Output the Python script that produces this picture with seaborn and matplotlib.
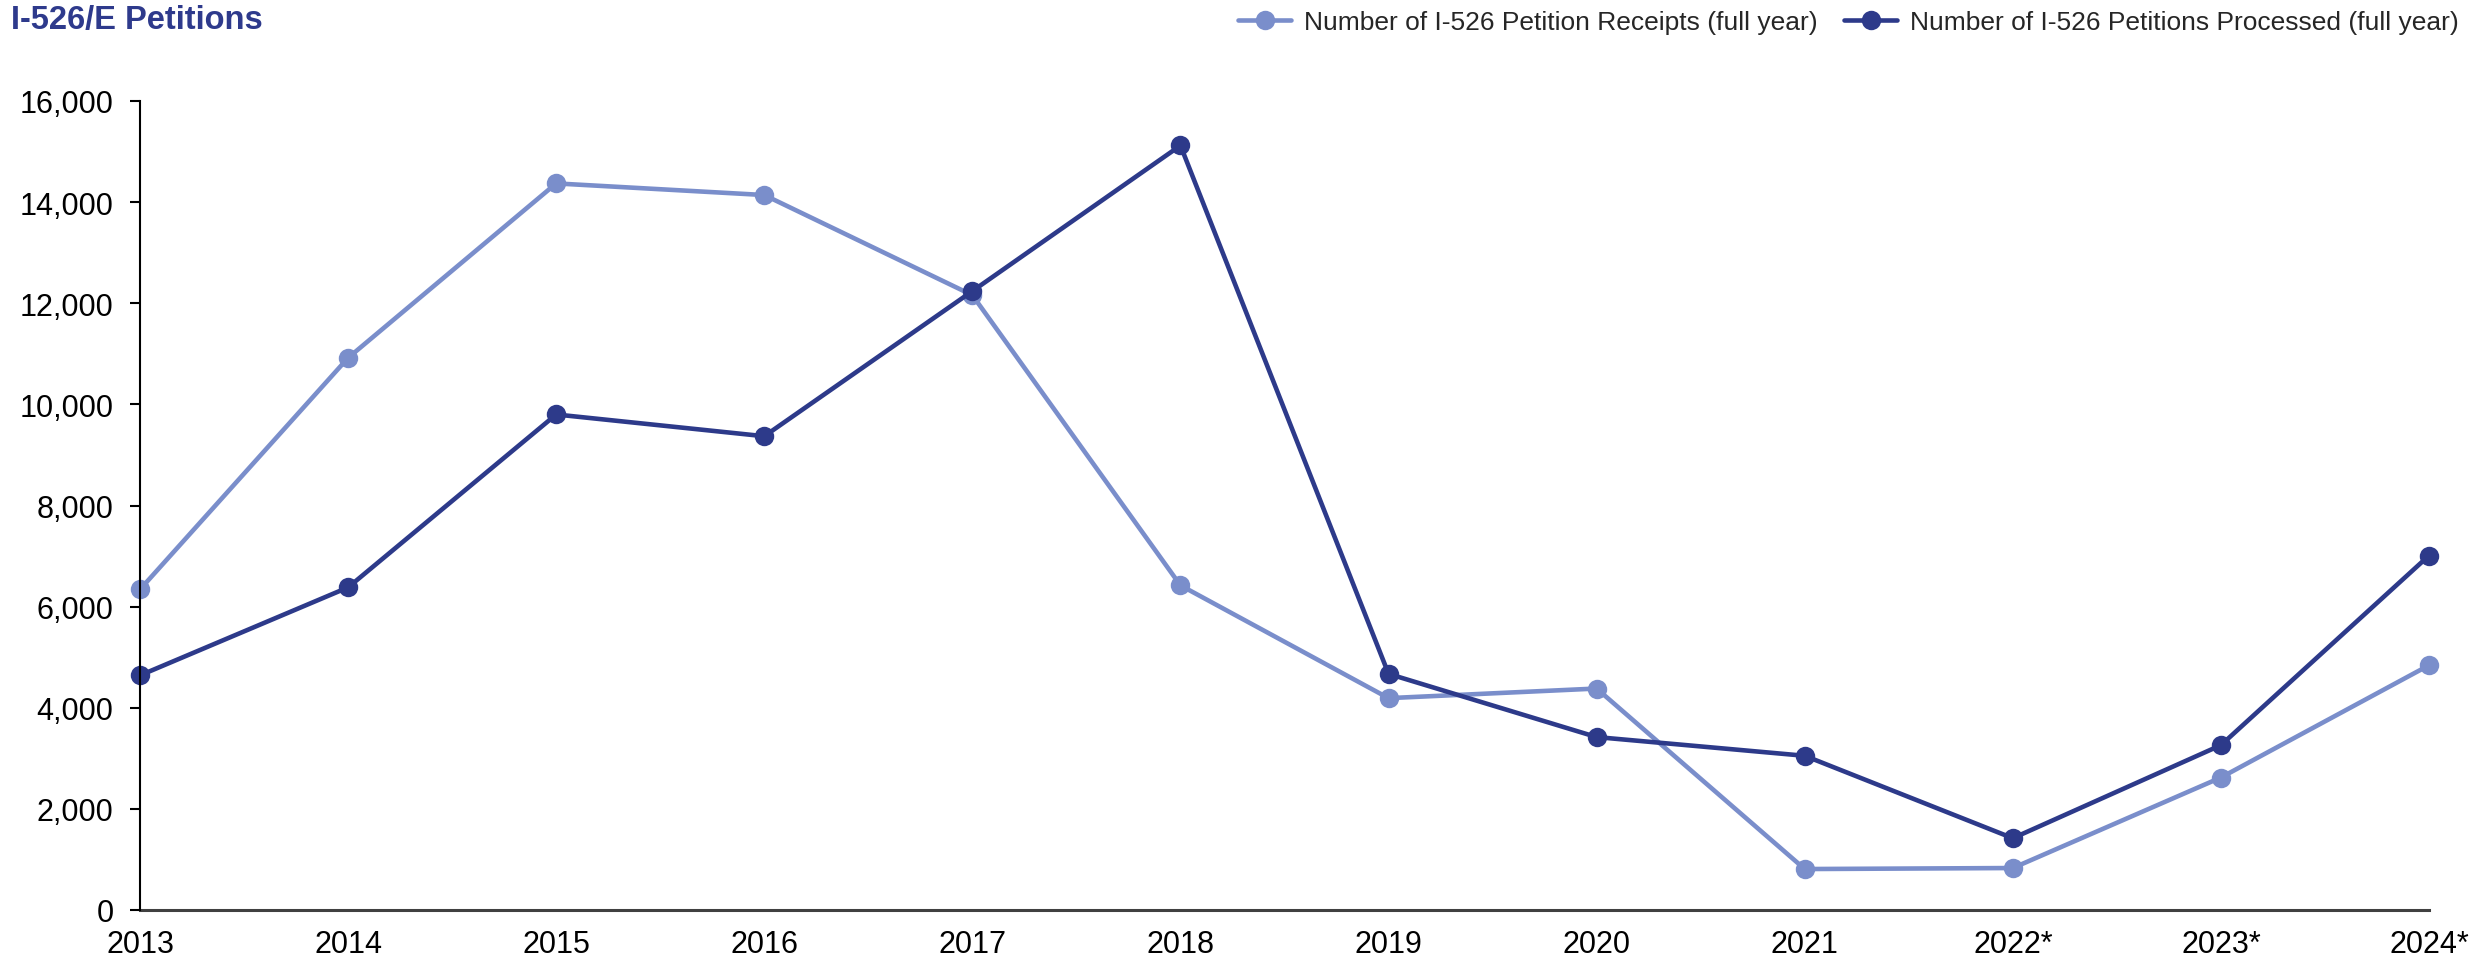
import pandas as pd
import matplotlib.pyplot as plt
import seaborn as sns

years = ["2013", "2014", "2015", "2016", "2017", "2018",
         "2019", "2020", "2021", "2022*", "2023*", "2024*"]
receipts = [6340, 10920, 14370, 14140, 12160, 6420, 4190, 4380, 810, 830, 2620, 4840]
processed = [4640, 6380, 9800, 9370, 12240, 15120, 4670, 3420, 3050, 1420, 3260, 7010]

receipts_label = "Number of I-526 Petition Receipts (full year)"
processed_label = "Number of I-526 Petitions Processed (full year)"

df = pd.DataFrame({
    "Year": years * 2,
    "Count": receipts + processed,
    "Series": [receipts_label] * len(years) + [processed_label] * len(years),
})

light = "#7A8ECB"
dark = "#2D3A8A"

sns.set_style("white")
plt.rcParams["font.family"] = ["Liberation Sans", "DejaVu Sans"]

fig = plt.figure(figsize=(24.88, 9.62), dpi=100)
ax = fig.add_axes([140 / 2488, 1 - 911 / 962, (2429 - 140) / 2488, (911 - 102) / 962])

sns.lineplot(data=df, x="Year", y="Count", hue="Series",
             hue_order=[receipts_label, processed_label],
             palette=[light, dark], marker="o", markersize=14,
             markeredgewidth=0, linewidth=3.3, sort=False, ax=ax)

# keep the end markers whole, like the original
for line in ax.lines:
    line.set_clip_on(False)

ax.set_xlim(0, len(years) - 1)
ax.set_ylim(0, 16000)
ax.set_yticks(range(0, 16001, 2000))
ax.yaxis.set_major_formatter(plt.FuncFormatter(lambda v, p: f"{int(v):,}"))
ax.set_xlabel("")
ax.set_ylabel("")

for s in ["top", "right"]:
    ax.spines[s].set_visible(False)
ax.spines["left"].set_color("black")
ax.spines["left"].set_linewidth(1.5)
ax.spines["bottom"].set_color("#404040")
ax.spines["bottom"].set_linewidth(2.2)
ax.spines["bottom"].set_zorder(0.5)

ax.tick_params(axis="y", left=True, length=7, width=1.5, color="black",
               pad=12, labelsize=22, labelcolor="black")
ax.tick_params(axis="x", bottom=False, length=0, pad=14, labelsize=22,
               labelcolor="black")

handles, labels = ax.get_legend_handles_labels()
ax.get_legend().remove()
fig.legend(handles, labels, loc="upper right", ncol=2, frameon=False,
           bbox_to_anchor=(2475 / 2488, 1.005), fontsize=19,
           handlelength=2.0, handletextpad=0.5, columnspacing=1.0,
           borderaxespad=0.2)

fig.text(11 / 2488, 1 - 29 / 962, "I-526/E Petitions", fontsize=23.5,
         fontweight="bold", color="#2E3A8C", va="baseline", ha="left")

fig.savefig("out.png", dpi=100)
